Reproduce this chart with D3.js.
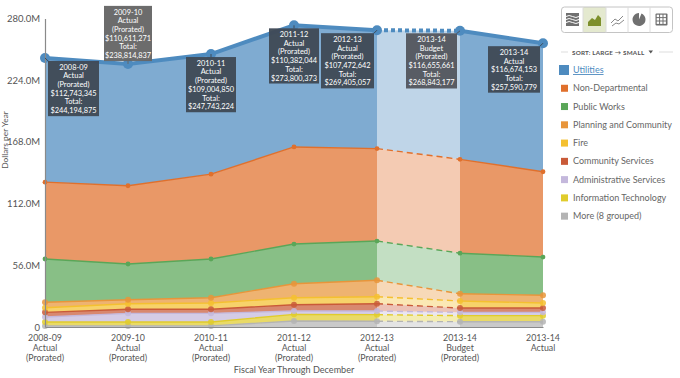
<!DOCTYPE html>
<html><head><meta charset="utf-8">
<script src="https://cdn.jsdelivr.net/npm/d3@7/dist/d3.min.js"></script>
<style>html,body{margin:0;padding:0;background:#fff}svg{display:block;font-family:Lato,"Open Sans",sans-serif}</style>
</head><body><svg id="c" width="680" height="378"></svg>
<script>
const periods=["2008-09","2009-10","2010-11","2011-12","2012-13","2013-14","2013-14 "];
const periodKind=["Actual","Actual","Actual","Actual","Actual","Budget","Actual"];
const periodNote=["(Prorated)","(Prorated)","(Prorated)","(Prorated)","(Prorated)","(Prorated)",""];
const utilities=[112.743345,110.611271,109.00485,110.382044,107.472642,116.655661,116.674153];
const nonDepartmental=[69.75,71,77.04,88.12,83.93,85.19,77.42];
const publicWorks=[39.3,32.4,35.1,36,35.6,36.8,34.7];
const planning=[4.9,3.7,4.8,12.7,14.9,6.6,7];
const fire=[4.2,5,5.7,6.4,6.4,6.4,4.6];
const community=[4.2,3.7,3.7,5.7,6.6,3.9,3.9];
const admin=[4.6,7.9,7.9,3,3.3,3,3];
const infoTech=[3.5,3.5,3.5,6.1,6,5.5,5.5];
const more=[1,1,1,5.4,5.2,4.8,4.8];
const utilLabels=["$112,743,345","$110,611,271","$109,004,850","$110,382,044","$107,472,642","$116,655,661","$116,674,153"];
const totalLabels=["$244,194,875","$238,814,837","$247,743,224","$273,800,373","$269,405,057","$268,843,177","$257,590,779"];
const yTicks=[0,56,112,168,224,280];
const seriesNames=["Utilities","Non-Departmental","Public Works","Planning and Community","Fire","Community Services","Administrative Services","Information Technology","More (8 grouped)"];
const seriesColors=["#4e8bbf","#e0702c","#5aa658","#e8953a","#f4c030","#c95a38","#c4b8dc","#e0cc2c","#b4b4b4"];
const seriesValues=[utilities,nonDepartmental,publicWorks,planning,fire,community,admin,infoTech,more];

const svg=d3.select("#c");
const x=d3.scalePoint().domain(periods).range([45,543]);
const y=d3.scaleLinear().domain([0,280]).range([327,18.5]);
const rows=periods.map((p,i)=>{const r={p};seriesNames.forEach((n,k)=>r[n]=seriesValues[k][i]);return r;});
const stack=d3.stack().keys(seriesNames.slice().reverse())(rows);
const colorOf=d3.scaleOrdinal(seriesNames,seriesColors);
const area=d3.area().x(d=>x(d.data.p)).y0(d=>y(d[0])).y1(d=>y(d[1]));
const line=d3.line().x(d=>x(d.data.p)).y(d=>y(d[1]));

const ga=svg.append("g");
stack.forEach(s=>{
  const c=colorOf(s.key);
  ga.append("path").attr("d",area(s.slice(0,5))).attr("fill",c).attr("fill-opacity",.72);
  ga.append("path").attr("d",area(s.slice(5,7))).attr("fill",c).attr("fill-opacity",.72);
  ga.append("path").attr("d",area(s.slice(4,6))).attr("fill",c).attr("fill-opacity",.36);
});
stack.forEach(s=>{
  const c=colorOf(s.key), top=s.key==="Utilities", w=top?4:1.4;
  ga.append("path").attr("d",line(s.slice(0,5))).attr("fill","none").attr("stroke",c).attr("stroke-width",w);
  ga.append("path").attr("d",line(s.slice(5,7))).attr("fill","none").attr("stroke",c).attr("stroke-width",w);
  ga.append("path").attr("d",line(s.slice(4,6))).attr("fill","none").attr("stroke",c).attr("stroke-width",w)
    .attr("stroke-dasharray",top?"4,3":"6,4");
  ga.selectAll(null).data(s).join("circle").attr("cx",d=>x(d.data.p)).attr("cy",d=>y(d[1]))
    .attr("r",top?5:(s.key==="Non-Departmental"||s.key==="Public Works"?2.4:3)).attr("fill",c)
    .attr("fill-opacity",["Utilities","Non-Departmental","Public Works"].includes(s.key)?1:.85);
});

const yAxis=d3.axisLeft(y).tickValues(yTicks).tickSize(0).tickPadding(5).tickFormat(d=>d===0?"0":d.toFixed(1)+"M");
const gy=svg.append("g").attr("transform","translate(45,0)").call(yAxis);
gy.select(".domain").attr("stroke","#8a8a8a").attr("stroke-width",1.2);
gy.selectAll("text").attr("font-size",9.5).attr("fill","#555").attr("font-family","Lato,sans-serif");
const gx=svg.append("g").attr("transform","translate(0,327)").call(d3.axisBottom(x).tickSize(0).tickFormat(""));
gx.select(".domain").attr("stroke","#8a8a8a").attr("stroke-width",1.2);
const xl=svg.append("g").selectAll("text").data(periods).join("text")
  .attr("text-anchor","middle").attr("font-size",8.8).attr("fill","#555");
xl.each(function(p,i){
  [p.trim(),periodKind[i],periodNote[i]].filter(Boolean).forEach((t,k)=>
    d3.select(this).append("tspan").attr("x",x(p)).attr("y",341+k*10).text(t));
});
svg.append("text").attr("x",294).attr("y",373).attr("text-anchor","middle").attr("font-size",9.1).attr("fill","#555").text("Fiscal Year Through December");
svg.append("text").attr("transform","translate(7.5,140) rotate(-90)").attr("text-anchor","middle").attr("font-size",8.4).attr("fill","#555").text("Dollars per Year");

// callouts: offsets from each period's top point
const boxDx=[3,-24,-25,-25,-56,-54,-55], boxDy=[3,-58,3,3,3,2.5,3], boxW=[51,48,50,50,53,51,52];
const boxFill=["#3f4a56","#666666","#3f4a56","#3f4a56","#3f4a56","#53565f","#3f4a56"];
const topLayer=stack[stack.length-1];
periods.forEach((p,i)=>{
  const px=x(p),py=y(topLayer[i][1]),bx=px+boxDx[i],by=py+boxDy[i];
  const lines=[p.trim(),periodKind[i],periodNote[i],utilLabels[i],"Total:",totalLabels[i]].filter(Boolean);
  const h=lines.length*8.7+3;
  const g=svg.append("g");
  g.append("line").attr("x1",px).attr("y1",py)
    .attr("x2",Math.max(bx,Math.min(bx+boxW[i],px))).attr("y2",Math.max(by,Math.min(by+h,py)))
    .attr("stroke",boxFill[i]).attr("stroke-width",1);
  g.append("rect").attr("x",bx).attr("y",by).attr("width",boxW[i]).attr("height",h).attr("fill",boxFill[i]).attr("fill-opacity",.96);
  g.selectAll("text").data(lines).join("text").attr("x",bx+boxW[i]/2).attr("y",(d,k)=>by+8.7+k*8.7)
    .attr("text-anchor","middle").attr("font-size",7.4).attr("fill","#fff").text(d=>d);
});

// toolbar
const tb=svg.append("g");
tb.append("rect").attr("x",583).attr("y",7).attr("width",23).attr("height",25).attr("fill","#e4e9cf");
tb.append("rect").attr("x",561.5).attr("y",7).attr("width",111).attr("height",25.5).attr("rx",3).attr("fill","none").attr("stroke","#c4c4c4");
[583,606,628,650].forEach(v=>tb.append("line").attr("x1",v).attr("x2",v).attr("y1",7).attr("y2",32.5).attr("stroke","#dcdcdc"));
const gi="#707070";
const ic1=tb.append("g").attr("transform","translate(566,13)");
ic1.append("rect").attr("width",13).attr("height",13).attr("fill",gi);
[3.5,6.5,9.5].forEach(v=>ic1.append("path").attr("d",`M0 ${v}q3 -2 6.5 0t6.5 0`).attr("fill","none").attr("stroke","#fff").attr("stroke-width",1));
tb.append("path").attr("transform","translate(588,15)").attr("d","M0 7L4 3L7 5L10 0L13 3V11H0Z").attr("fill","#7d8f2c");
tb.append("path").attr("transform","translate(611,15)").attr("d","M0 8L4 4L7 6L12 1M1 11L5 8L8 9L13 5").attr("fill","none").attr("stroke","#8a8a8a");
tb.append("path").attr("transform","translate(639,19.5)").attr("d",d3.arc().innerRadius(0).outerRadius(6.5).startAngle(Math.PI/8).endAngle(Math.PI*2)()).attr("fill",gi);
const ic5=tb.append("g").attr("transform","translate(655.5,13.5)");
ic5.append("rect").attr("width",12).attr("height",12).attr("rx",1).attr("fill",gi);
[0,1,2].forEach(a=>[0,1,2].forEach(b=>ic5.append("rect").attr("x",1.2+a*3.4).attr("y",1.2+b*3.4).attr("width",2.4).attr("height",2.4).attr("fill","#fff")));

// sort header
const sh=svg.append("g");
sh.append("line").attr("x1",561).attr("x2",568).attr("y1",52).attr("y2",52).attr("stroke","#ddd");
sh.append("line").attr("x1",659).attr("x2",673).attr("y1",52).attr("y2",52).attr("stroke","#ddd");
sh.append("text").attr("x",572).attr("y",54.5).attr("font-size",6.3).attr("font-weight",700).attr("fill","#555").attr("letter-spacing",.2).text("SORT: LARGE → SMALL");
sh.append("path").attr("d","M648.5 50.5h4.5l-2.25 3z").attr("fill","#555");

// legend
const lg=svg.append("g").selectAll("g").data(seriesNames).join("g")
  .attr("transform",(d,i)=>`translate(0,${70+i*18.27})`);
lg.append("rect").attr("x",(d,i)=>i?561:559).attr("y",(d,i)=>i?-3.5:-5).attr("width",(d,i)=>i?7:10).attr("height",(d,i)=>i?7:10).attr("fill",d=>colorOf(d));
lg.append("text").attr("x",573).attr("y",3).attr("font-size",9).attr("fill",(d,i)=>i?"#666":"#4e8bbf")
  .attr("text-decoration",(d,i)=>i?null:"underline").text(d=>d);
</script></body></html>
